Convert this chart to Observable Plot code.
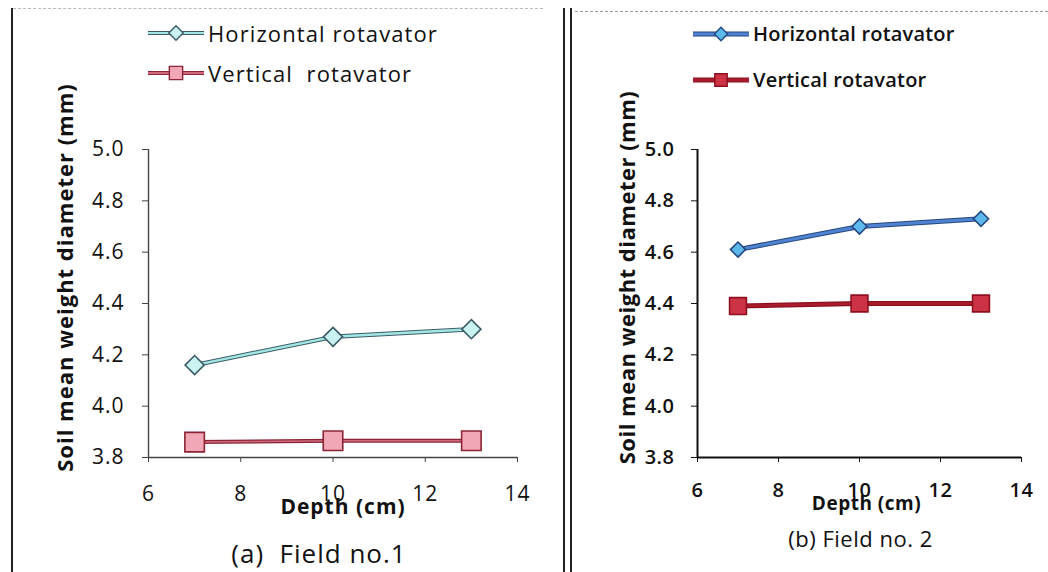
<!DOCTYPE html>
<html>
<head>
<meta charset="utf-8">
<script src="https://cdn.jsdelivr.net/npm/d3@7"></script>
<script src="https://cdn.jsdelivr.net/npm/@observablehq/plot@0.6"></script>
<style>
  html, body { margin: 0; padding: 0; background: #fff; }
  #root { position: relative; width: 1048px; height: 572px; overflow: hidden; background: #fff; font-family: "Open Sans", sans-serif; }
  #root > .layer { position: absolute; top: 0; }
  #root svg text { white-space: pre; }
  .legend { position: absolute; display: flex; align-items: center; color: #111; white-space: pre; }
  .legend svg { display: block; }
</style>
</head>
<body>
<div id="root"></div>
<script>
// ---- data ----
const depth = [7, 10, 13];
const field1Horizontal = [4.16, 4.27, 4.30];
const field1Vertical = [3.86, 3.865, 3.865];
const field2Horizontal = [4.61, 4.70, 4.73];
const field2Vertical = [4.39, 4.40, 4.40];
const xTicks = [6, 8, 10, 12, 14];
const yTicks = [3.8, 4.0, 4.2, 4.4, 4.6, 4.8, 5.0];
const field1Names = ["Horizontal rotavator", "Vertical  rotavator"];
const field2Names = ["Horizontal rotavator", "Vertical rotavator"];
const yTitle = "Soil mean weight diameter (mm)";
const xTitle = "Depth (cm)";
const captions = ["(a)  Field no.1", "(b) Field no. 2"];

const root = document.getElementById("root");

function rows(vals) { return depth.map((x, i) => ({x, y: vals[i]})); }

function panel(o) {
  const h = rows(o.h), v = rows(o.v);
  return Plot.plot({
    width: o.width, height: 572,
    marginLeft: o.marginLeft, marginRight: o.marginRight,
    marginTop: 149, marginBottom: 572 - 457,
    x: {domain: [6, 14]},
    y: {domain: [3.8, 5.0]},
    style: {fontFamily: "Open Sans", background: "transparent", color: "#111", overflow: "visible", letterSpacing: o.spacing + "px"},
    marks: [
      Plot.axisY({ticks: yTicks, tickFormat: d3.format(".1f"), tickSize: 6, tickPadding: o.yPad, label: null,
                  fontSize: o.tickFont, fontWeight: o.tickWeight, stroke: o.axisColor, color: "#111"}),
      Plot.axisX({ticks: xTicks, tickSize: 5, tickPadding: o.xPad, label: null,
                  fontSize: o.tickFont, fontWeight: o.tickWeight, stroke: o.axisColor, color: "#111"}),
      Plot.ruleX([6], {stroke: o.axisColor, strokeWidth: o.axisWidth}),
      Plot.ruleY([3.8], {stroke: o.axisColor, strokeWidth: o.axisWidth}),
      Plot.text([yTitle], {frameAnchor: "left", textAnchor: "middle", rotate: -90, dx: o.yTitleDx, dy: -26,
                 fontSize: o.yTitleFont, fontWeight: "bold", fill: "#111"}),
      Plot.text([xTitle], {frameAnchor: "bottom", dx: o.xTitleDx, dy: o.xTitleDy,
                 fontSize: o.xTitleFont, fontWeight: "bold", fill: "#111"}),
      Plot.text([o.caption], {frameAnchor: "bottom", dx: o.capDx, dy: o.capDy,
                 fontSize: o.capFont, fill: "#111"}),
      // horizontal rotavator
      Plot.line(h, {x: "x", y: "y", stroke: o.hEdge, strokeWidth: o.hLineW}),
      Plot.line(h, {x: "x", y: "y", stroke: o.hLine, strokeWidth: o.hLineW - 2}),
      Plot.dot(h, {x: "x", y: "y", symbol: "diamond2", r: o.hR, fill: o.hFill, stroke: o.hEdge, strokeWidth: 1.6}),
      // vertical rotavator
      Plot.line(v, {x: "x", y: "y", stroke: o.vEdge, strokeWidth: o.vLineW}),
      Plot.line(v, {x: "x", y: "y", stroke: o.vLine, strokeWidth: o.vLineW - 2.5}),
      Plot.dot(v, {x: "x", y: "y", symbol: "square", r: o.vR, fill: o.vFill, stroke: o.vEdge, strokeWidth: 1.6})
    ]
  });
}

const p1 = {
  width: 560, marginLeft: 148, marginRight: 560 - 517, spacing: 1,
  yPad: 18, xPad: 24, tickFont: 21, tickWeight: "normal", axisColor: "#444", axisWidth: 1.4,
  yTitleDx: -83, yTitleFont: 22, xTitleDx: 10, xTitleDy: 56, xTitleFont: 21,
  caption: captions[0], capDx: -14, capDy: 105, capFont: 26,
  h: field1Horizontal, v: field1Vertical,
  hEdge: "#3b5c66", hLine: "#a3e6e6", hFill: "#c9f2f0", hLineW: 4.5, hR: 8.6,
  vEdge: "#8a2436", vLine: "#cf6a7c", vFill: "#f1a7b5", vLineW: 4, vR: 11
};
const p2 = {
  width: 468, marginLeft: 697 - 580, marginRight: 1048 - 1021, spacing: 0.5,
  yPad: 17, xPad: 20, tickFont: 20, tickWeight: 600, axisColor: "#111", axisWidth: 2,
  yTitleDx: -(697 - 627), yTitleFont: 22, xTitleDx: 7, xTitleDy: 52, xTitleFont: 19,
  caption: captions[1], capDx: 1, capDy: 89, capFont: 22,
  h: field2Horizontal, v: field2Vertical,
  hEdge: "#24487f", hLine: "#4f82d0", hFill: "#5db8ec", hLineW: 5, hR: 6.8,
  vEdge: "#8e1020", vLine: "#a81c2c", vFill: "#cc3344", vLineW: 5, vR: 9.5
};

const s1 = panel(p1); s1.classList.add("layer"); s1.style.left = "0px";
const s2 = panel(p2); s2.classList.add("layer"); s2.style.left = "580px";
root.appendChild(s1); root.appendChild(s2);

// decorative frame lines
function line(css) { const d = document.createElement("div"); d.style.cssText = "position:absolute;" + css; root.appendChild(d); }
line("left:11px;top:8px;width:2px;height:564px;background:#222;");
line("left:13px;top:8px;width:530px;height:0;border-top:1.5px dashed #bbb;");
line("left:563px;top:8px;width:2px;height:564px;background:#222;");
line("left:570px;top:8px;width:2px;height:564px;background:#222;");
line("left:575px;top:11px;width:473px;height:0;border-top:1.5px dashed #999;");

// legends
function legendItem(left, top, name, sym, lineEdge, lineFill, symFill, symEdge, r, lw, font, weight, spacing) {
  const div = document.createElement("div");
  div.className = "legend";
  div.style.left = left + "px"; div.style.top = top + "px";
  div.style.fontSize = font + "px"; div.style.fontWeight = weight; div.style.letterSpacing = spacing + "px";
  const svg = d3.create("svg").attr("width", 58).attr("height", 24);
  svg.append("line").attr("x1", 1).attr("x2", 57).attr("y1", 12).attr("y2", 12).attr("stroke", lineEdge).attr("stroke-width", lw);
  svg.append("line").attr("x1", 1).attr("x2", 57).attr("y1", 12).attr("y2", 12).attr("stroke", lineFill).attr("stroke-width", lw - 2);
  const sz = sym === "diamond2" ? d3.symbolDiamond2 : d3.symbolSquare;
  svg.append("path").attr("transform", "translate(29,12)")
     .attr("d", d3.symbol(sz, r * r * Math.PI)())
     .attr("fill", symFill).attr("stroke", symEdge).attr("stroke-width", 1.4);
  div.appendChild(svg.node());
  const t = document.createElement("span"); t.textContent = name; t.style.marginLeft = "3px";
  div.appendChild(t);
  root.appendChild(div);
}
legendItem(147, 18, field1Names[0], "diamond2", p1.hEdge, p1.hLine, p1.hFill, p1.hEdge, 6.5, 4, 22, "normal", 1.1);
legendItem(147, 58, field1Names[1], "square", p1.vEdge, p1.vLine, p1.vFill, p1.vEdge, 7.5, 4, 22, "normal", 1.1);
legendItem(692, 20, field2Names[0], "diamond2", p2.hEdge, p2.hLine, p2.hFill, p2.hEdge, 6, 5, 20, 600, 0.2);
legendItem(692, 66, field2Names[1], "square", p2.vEdge, p2.vLine, p2.vFill, p2.vEdge, 7, 5, 20, 600, 0.2);
</script>
</body>
</html>
